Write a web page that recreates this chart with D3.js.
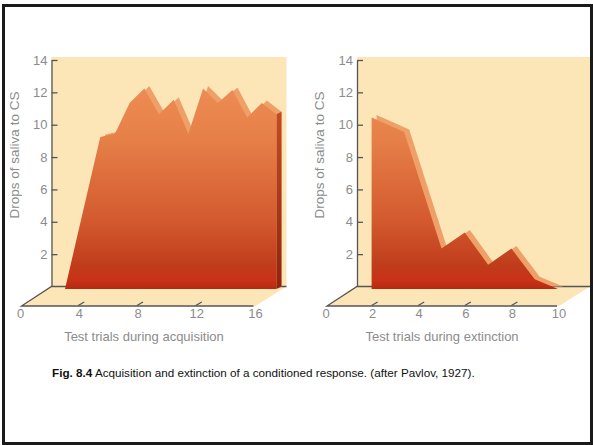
<!DOCTYPE html>
<html>
<head>
<meta charset="utf-8">
<script src="https://cdn.jsdelivr.net/npm/d3@7"></script>
<style>
  body { margin: 0; background: #fff; }
  svg { display: block; font-family: "Liberation Sans", Arial, sans-serif; }
</style>
</head>
<body>
<svg id="fig" width="593" height="445"></svg>
<script>
// values (drops of saliva per test trial)
const acqTrials = [1.6, 4, 5, 6, 7, 8, 9, 10, 11, 12, 13, 14, 15, 16];
const acqDrops = [0, 9.4, 9.6, 11.5, 12.4, 10.8, 11.7, 9.6, 12.4, 11.5, 12.3, 10.6, 11.5, 10.8];
const extTrials = [2, 3.4, 5, 6, 7, 8, 9, 10];
const extDrops = [10.6, 9.7, 2.5, 3.5, 1.5, 2.5, 0.6, 0];

const yTicks = [2, 4, 6, 8, 10, 12, 14];
const acqXTicks = [0, 4, 8, 12, 16];
const extXTicks = [0, 2, 4, 6, 8, 10];

const yTitle = "Drops of saliva to CS";
const captionBold = "Fig. 8.4";
const captionText = " Acquisition and extinction of a conditioned response. (after Pavlov, 1927).";

const svg = d3.select("#fig");
const grey = "#8c8c8c"; // label colour
const axisCol = "#555";
const cream = "#fce6b8";

const depth = [31, -19.5]; // front axis -> back wall
const lift = [5, -2.5]; // thickness of the area slab
const yBase = 286.5; // back wall baseline
const yTop = 60; // value 14

// gradient for the front face of the slabs
const defs = svg.append("defs");
const grad = defs.append("linearGradient").attr("id", "face")
  .attr("gradientUnits", "userSpaceOnUse")
  .attr("x1", 0).attr("x2", 0).attr("y1", yTop).attr("y2", yBase + 2.5);
[["0", "#f0935a"], ["0.35", "#e67f48"], ["0.7", "#d35a2f"], ["0.9", "#bf3c1b"],
 ["0.96", "#c93218"], ["1", "#b52a12"]].forEach(s =>
  grad.append("stop").attr("offset", s[0]).attr("stop-color", s[1]));
const side = defs.append("linearGradient").attr("id", "side")
  .attr("x1", 0).attr("x2", 0).attr("y1", 0).attr("y2", 1);
side.append("stop").attr("offset", "0").attr("stop-color", "#c24c22");
side.append("stop").attr("offset", "1").attr("stop-color", "#8e2410");

function drawPanel(cfg) {
  const g = svg.append("g");
  const xFront = d3.scaleLinear().domain(cfg.xDomain).range(cfg.xRange);
  const xArea = d3.scaleLinear().domain(cfg.xDomain)
    .range(cfg.xRange.map(v => v + cfg.areaDx));
  const y = d3.scaleLinear().domain([0, 14]).range([yBase, yTop]);
  const yArea = d3.scaleLinear().domain([0, 14]).range([yBase - lift[1], yTop - lift[1]]);

  const fx0 = xFront(cfg.xDomain[0]), fx1 = xFront(cfg.xDomain[1]);
  const fy = yBase - depth[1];
  const bx0 = fx0 + depth[0], bx1 = fx1 + depth[0];

  // back wall
  g.append("rect").attr("x", bx0).attr("y", yTop - 3)
    .attr("width", bx1 - bx0).attr("height", yBase - yTop + 3).attr("fill", cream);
  // floor
  g.append("path")
    .attr("d", d3.line()([[fx0, fy], [fx1, fy], [bx1, yBase], [bx0, yBase]]) + "Z")
    .attr("fill", cream);

  // floor lines
  g.append("path")
    .attr("d", d3.line()([[fx1 - 2, fy], [fx0 + 1, fy], [bx0, yBase], [bx1, yBase]]))
    .attr("fill", "none").attr("stroke", axisCol).attr("stroke-width", 1.3);

  // small depth ticks on the floor
  g.selectAll(".dt").data(cfg.xTicks.slice(1, -1)).join("line")
    .attr("x1", d => xFront(d) - 1).attr("y1", fy - 0.5)
    .attr("x2", d => xFront(d) + 5).attr("y2", fy - 4)
    .attr("stroke", axisCol).attr("stroke-width", 1.3);

  // front axis labels
  g.selectAll(".xl").data(cfg.xTicks).join("text")
    .attr("x", d => xFront(d)).attr("y", 318)
    .attr("text-anchor", "middle").attr("font-size", 13).attr("fill", grey)
    .text(d => d);
  g.append("text").attr("x", cfg.titleX).attr("y", 341)
    .attr("text-anchor", "middle").attr("font-size", 13).attr("fill", grey)
    .text(cfg.xTitle);

  // y axis on the back wall
  const ay = g.append("g").attr("transform", "translate(" + bx0 + ",0)")
    .call(d3.axisLeft(y).tickValues(yTicks).tickSizeInner(-6).tickSizeOuter(0).tickPadding(4));
  ay.select(".domain").attr("stroke", axisCol).attr("stroke-width", 1.3);
  ay.selectAll(".tick line").attr("stroke", axisCol).attr("stroke-width", 1.3);
  ay.selectAll(".tick text").attr("fill", grey).attr("font-size", 13)
    .attr("font-family", "Liberation Sans, Arial, sans-serif");

  g.append("text")
    .attr("transform", "translate(" + (bx0 - 33) + ",155) rotate(-90)")
    .attr("text-anchor", "middle").attr("font-size", 13.5).attr("fill", grey)
    .text(yTitle);

  // the slab
  const pts = cfg.trials.map((t, i) => [xArea(t), yArea(cfg.drops[i])]);
  const first = cfg.trials[0], last = cfg.trials[cfg.trials.length - 1];
  const poly = [[xArea(first), yArea(0)]].concat(pts, [[xArea(last), yArea(0)]]);
  const shifted = poly.map(p => [p[0] + lift[0], p[1] + lift[1]]);
  const lastPt = pts[pts.length - 1];

  g.append("path").attr("d", d3.line()(shifted) + "Z").attr("fill", "#efa068");
  g.append("path")
    .attr("d", d3.line()([lastPt, [lastPt[0] + lift[0], lastPt[1] + lift[1]],
      [lastPt[0] + lift[0], yArea(0) + lift[1]], [lastPt[0], yArea(0)]]) + "Z")
    .attr("fill", "url(#side)");
  g.append("path").attr("d", d3.line()(poly) + "Z").attr("fill", "url(#face)");
}

drawPanel({
  xDomain: [0, 16], xRange: [20.5, 255.5], areaDx: 21,
  xTicks: acqXTicks, trials: acqTrials, drops: acqDrops,
  xTitle: "Test trials during acquisition", titleX: 144
});
drawPanel({
  xDomain: [0, 10], xRange: [326, 559], areaDx: -1,
  xTicks: extXTicks, trials: extTrials, drops: extDrops,
  xTitle: "Test trials during extinction", titleX: 442
});

// caption
const cap = svg.append("text").attr("x", 52).attr("y", 377)
  .attr("font-size", 11.7).attr("fill", "#111");
cap.append("tspan").attr("font-weight", "bold").text(captionBold);
cap.append("tspan").text(captionText);

// outer frame
svg.append("rect").attr("x", 3.5).attr("y", 5.5).attr("width", 588).attr("height", 438)
  .attr("fill", "none").attr("stroke", "#1a1a1a").attr("stroke-width", 3);
</script>
</body>
</html>
